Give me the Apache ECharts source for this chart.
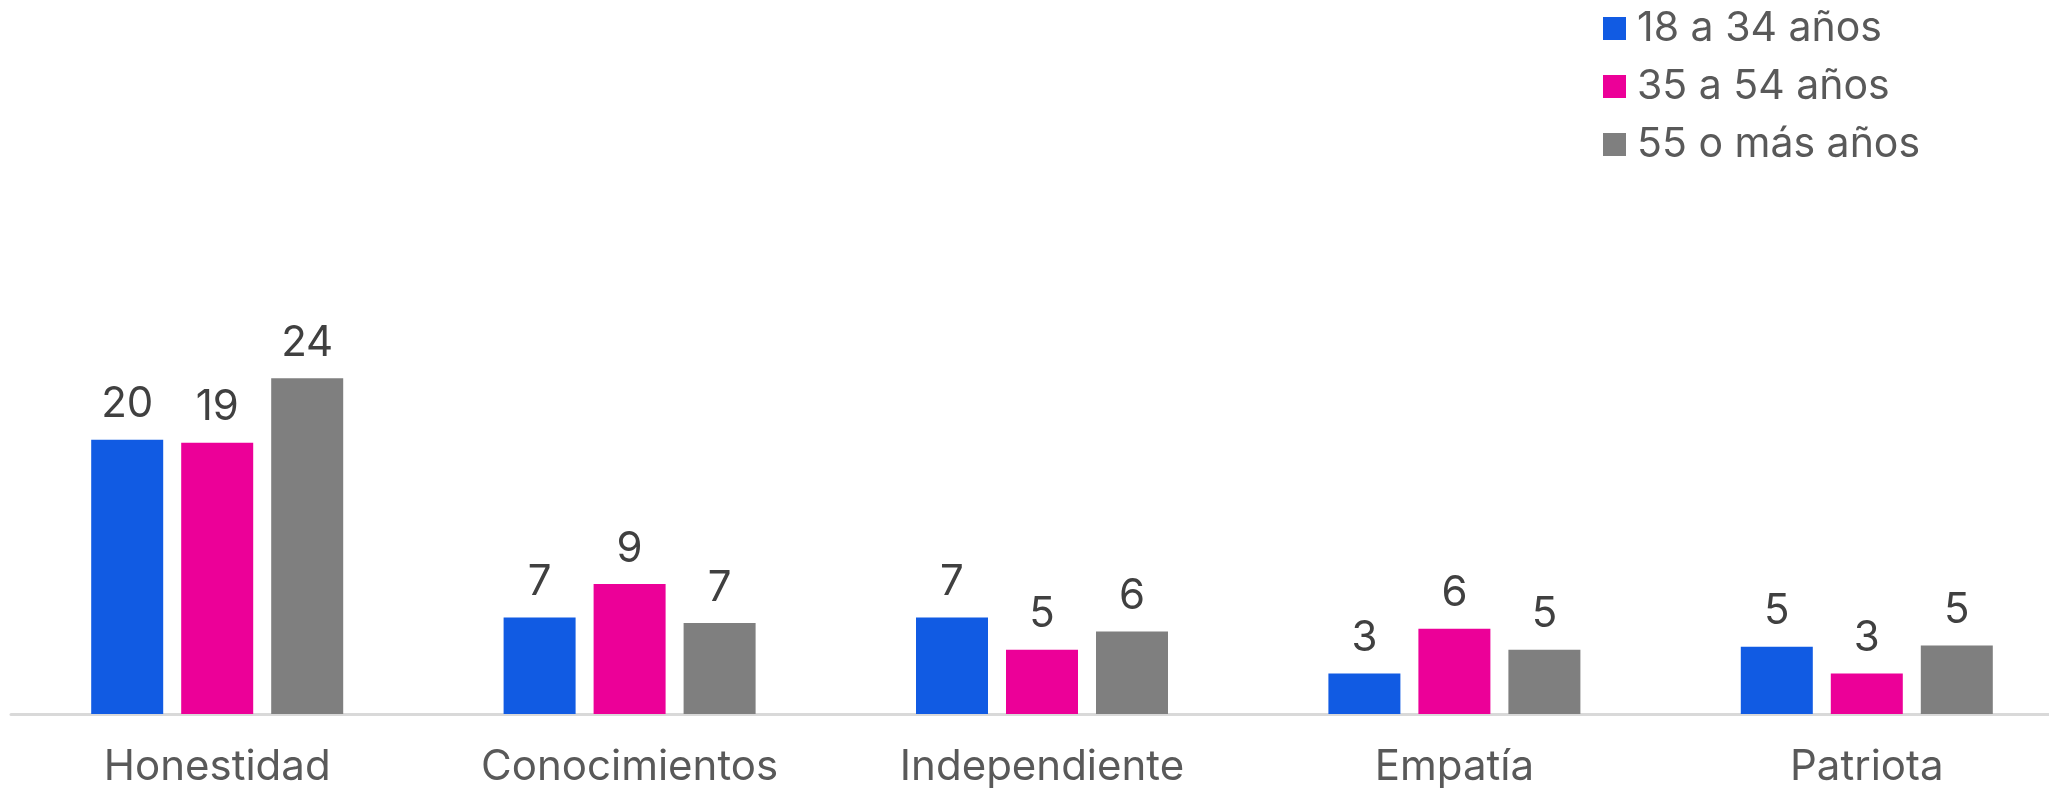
<!DOCTYPE html>
<html>
<head>
<meta charset="utf-8">
<script src="https://cdn.jsdelivr.net/npm/echarts@6/dist/echarts.min.js"></script>
<style>
html,body{margin:0;padding:0;background:#fff;}
#chart{width:2049px;height:788px;}
</style>
</head>
<body>
<div id="chart"></div>
<script>
const categories = ["Honestidad", "Conocimientos", "Independiente", "Empatía", "Patriota"];
const seriesNames = ["18 a 34 años", "35 a 54 años", "55 o más años"];
const values18to34 = [19.6, 6.9, 6.9, 2.9, 4.8];
const values35to54 = [19.4, 9.3, 4.6, 6.1, 2.9];
const values55plus = [24.0, 6.5, 5.9, 4.6, 4.9];
const colors = ["#115BE3", "#EC0098", "#7F7F7F"];

const FONT = "Inter";
const chart = echarts.init(document.getElementById('chart'));
const labelCfg = {
  show: true,
  position: 'top',
  distance: 14,
  color: '#404040',
  fontFamily: FONT,
  fontSize: 42,
  formatter: p => Math.round(p.value)
};
const allValues = [values18to34, values35to54, values55plus];
chart.setOption({
  animation: false,
  backgroundColor: '#ffffff',
  legend: {
    orient: 'vertical',
    left: 1603,
    top: 8,
    padding: 0,
    itemWidth: 23,
    itemHeight: 23,
    itemGap: 17,
    icon: 'rect',
    textStyle: { fontFamily: FONT, fontSize: 41, color: '#595959', padding: [0, 0, 0, 6] },
    data: seriesNames
  },
  grid: { left: 11, top: 300, width: 2062, height: 414, outerBoundsMode: 'none', containLabel: false },
  xAxis: {
    type: 'category',
    data: categories,
    axisLine: { show: true, lineStyle: { color: '#D9D9D9', width: 3 } },
    axisTick: { show: false },
    axisLabel: { color: '#595959', fontFamily: FONT, fontSize: 42, margin: 32 }
  },
  yAxis: {
    type: 'value',
    min: 0,
    max: 29.6,
    show: false,
    splitLine: { show: false }
  },
  series: seriesNames.map((name, i) => ({
    name: name,
    type: 'bar',
    data: allValues[i],
    barWidth: 72,
    barGap: '25%',
    itemStyle: { color: colors[i] },
    label: labelCfg
  }))
});
</script>
</body>
</html>
